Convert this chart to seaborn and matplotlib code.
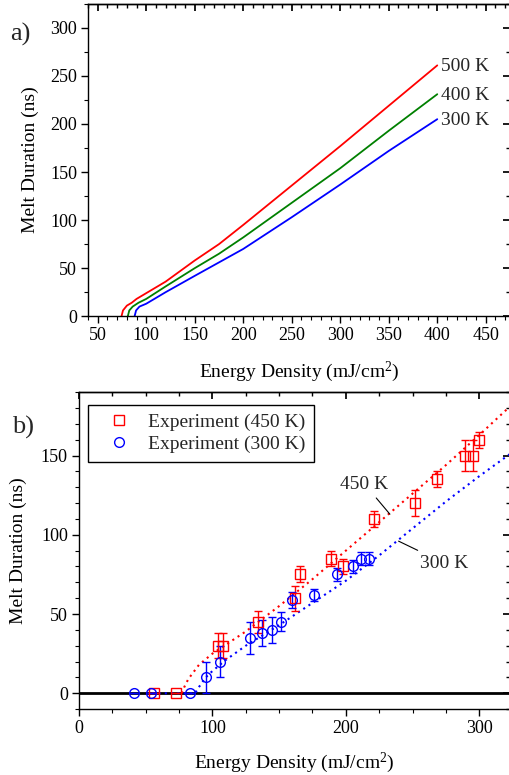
import matplotlib
matplotlib.use("Agg")
import matplotlib.pyplot as plt
import matplotlib.ticker as mticker
from matplotlib.lines import Line2D
import pandas as pd
import seaborn as sns

# ─── Data ─────────────────────────────────────────────────────────────────────

# panel a) simulated melt duration vs energy density
sim_a_500_x = [74.5, 76, 80, 85, 90, 100, 120, 150, 175, 200, 250, 300, 350, 400]
sim_a_500_y = [0, 6, 11, 14, 18, 24, 36, 58, 75, 95, 136, 177, 219, 261]
sim_a_400_x = [81, 82.5, 86, 92, 100, 120, 150, 175, 200, 250, 300, 350, 400]
sim_a_400_y = [0, 6, 10, 14, 18, 31, 50, 65, 82, 118, 154, 193, 231]
sim_a_300_x = [88, 89.5, 93, 100, 120, 150, 175, 200, 250, 300, 350, 400]
sim_a_300_y = [0, 6, 10, 13, 25, 42, 56, 70, 103, 137, 172, 205]
curve_labels_a = ["500 K", "400 K", "300 K"]

# panel b) experiment
exp_450_x = [56.5, 73, 104.5, 108, 134, 162, 166, 189, 197.5, 221, 252, 268, 289, 295, 300]
exp_450_y = [0, 0, 30, 30, 45, 60, 75, 85, 80, 110, 120, 135, 150, 150, 160]
exp_450_e = [0, 0, 8, 8, 7, 8, 5, 5, 5, 5, 8, 5, 10, 10, 5]

exp_300_x = [41, 54, 83, 95, 105.5, 128, 137.5, 144.5, 151.5, 160, 176, 193.5, 205, 211, 217]
exp_300_y = [0, 0, 0, 10, 20, 35, 38, 40, 45, 59, 62, 75, 80, 85, 85]
exp_300_e = [0, 0, 0, 10, 10, 10, 8, 8, 6, 5, 4, 4, 4, 4, 4]
exp_labels = ["Experiment (450 K)", "Experiment (300 K)"]

# panel b) simulation (dotted)
sim_b_450_x = [77, 79, 82, 90, 100, 125, 150, 175, 200, 225, 250, 275, 300, 323]
sim_b_450_y = [0, 4, 9, 18, 25, 39, 55, 72, 90, 108, 126, 144, 163, 181]
sim_b_300_x = [55, 87, 90, 95, 100, 110, 125, 150, 175, 200, 225, 250, 275, 300, 323]
sim_b_300_y = [0, 0, 4, 10, 14, 21, 30, 43, 57, 71, 87, 104, 121, 137, 151]

RED, GREEN, BLUE = "#ff0000", "#008000", "#0000ff"

# ─── Style ────────────────────────────────────────────────────────────────────

sns.set_theme(style="ticks")
plt.rcParams.update({
    "font.family": ["Liberation Serif", "DejaVu Serif"],
    "mathtext.fontset": "custom",
    "mathtext.rm": "Liberation Serif",
    "mathtext.it": "Liberation Serif:italic",
    "axes.linewidth": 1.0,
    "axes.edgecolor": "black",
    "xtick.color": "black",
    "ytick.color": "black",
    "xtick.labelsize": 13,
    "ytick.labelsize": 13,
    "axes.labelsize": 14,
    "axes.labelcolor": "black",
})
LBL = 14

fig = plt.figure(figsize=(5.09, 7.75), dpi=100)
ax_a = fig.add_axes([0.173, 0.592, 0.829, 0.403])
ax_b = fig.add_axes([0.155, 0.085, 0.847, 0.409])


def style_axes(ax, xmaj, xmin, ymaj, ymin):
    ax.xaxis.set_major_locator(mticker.MultipleLocator(xmaj))
    ax.xaxis.set_minor_locator(mticker.MultipleLocator(xmin))
    ax.yaxis.set_major_locator(mticker.MultipleLocator(ymaj))
    ax.yaxis.set_minor_locator(mticker.MultipleLocator(ymin))
    ax.tick_params(which="major", direction="out", length=5, width=1, pad=3)
    ax.tick_params(which="minor", direction="out", length=3, width=0.8)
    # mirrored ticks on top / right, pointing inward
    top = ax.secondary_xaxis("top")
    top.xaxis.set_major_locator(mticker.MultipleLocator(xmaj))
    top.xaxis.set_minor_locator(mticker.MultipleLocator(xmin))
    top.tick_params(which="major", direction="in", length=5, labeltop=False)
    top.tick_params(which="minor", direction="in", length=3, labeltop=False)
    right = ax.secondary_yaxis("right")
    right.yaxis.set_major_locator(mticker.MultipleLocator(ymaj))
    right.yaxis.set_minor_locator(mticker.MultipleLocator(ymin))
    right.tick_params(which="major", direction="in", length=5, labelright=False)
    right.tick_params(which="minor", direction="in", length=3, labelright=False)
    for s in ax.spines.values():
        s.set_visible(True)


# ─── Panel a ──────────────────────────────────────────────────────────────────

for xs, ys, col, lab in [(sim_a_500_x, sim_a_500_y, RED, curve_labels_a[0]),
                         (sim_a_400_x, sim_a_400_y, GREEN, curve_labels_a[1]),
                         (sim_a_300_x, sim_a_300_y, BLUE, curve_labels_a[2])]:
    sns.lineplot(x=xs, y=ys, ax=ax_a, color=col, linewidth=1.3, sort=False)
    ax_a.text(xs[-1] + 4, ys[-1] - 1, lab, fontsize=LBL, va="center", ha="left")

ax_a.set_xlim(40, 475)
ax_a.set_ylim(0, 325)
style_axes(ax_a, 50, 10, 50, 25)
ax_a.set_xlabel("Energy Density (mJ/cm$^2$)", labelpad=11)
ax_a.set_ylabel("Melt Duration (ns)", labelpad=8)
fig.text(0.02, 0.948, "a)", fontsize=19)

# ─── Panel b ──────────────────────────────────────────────────────────────────

ax_b.axhline(0, color="black", linewidth=2, zorder=1)
sns.lineplot(x=sim_b_450_x, y=sim_b_450_y, ax=ax_b, color=RED,
             linestyle=(0, (1, 2)), linewidth=1.5, sort=False)
sns.lineplot(x=sim_b_300_x, y=sim_b_300_y, ax=ax_b, color=BLUE,
             linestyle=(0, (1, 2)), linewidth=1.5, sort=False)

e450 = pd.DataFrame({"x": exp_450_x, "y": exp_450_y, "e": exp_450_e})
e300 = pd.DataFrame({"x": exp_300_x, "y": exp_300_y, "e": exp_300_e})
ax_b.errorbar(e450["x"], e450["y"], yerr=e450["e"], fmt="s", ms=7,
              mfc="none", mec=RED, mew=1.0, ecolor=RED, elinewidth=1.0,
              capsize=3, capthick=1.0, zorder=3)
ax_b.errorbar(e300["x"], e300["y"], yerr=e300["e"], fmt="o", ms=7,
              mfc="none", mec=BLUE, mew=1.0, ecolor=BLUE, elinewidth=1.0,
              capsize=3, capthick=1.0, zorder=3)

ax_b.annotate("450 K", xy=(233, 113), xytext=(214, 132), fontsize=LBL,
              ha="center", va="center",
              arrowprops=dict(arrowstyle="-", color="black", lw=0.8, shrinkA=2, shrinkB=0))
ax_b.annotate("300 K", xy=(239.5, 96), xytext=(274, 82), fontsize=LBL,
              ha="center", va="center",
              arrowprops=dict(arrowstyle="-", color="black", lw=0.8, shrinkA=2, shrinkB=0))

ax_b.set_xlim(0, 323)
ax_b.set_ylim(-10, 190)
style_axes(ax_b, 100, 25, 50, 10)
ax_b.set_xlabel("Energy Density (mJ/cm$^2$)", labelpad=10)
ax_b.set_ylabel("Melt Duration (ns)", labelpad=10)

handles = [Line2D([], [], marker="s", ls="none", mfc="none", mec=RED, ms=7),
           Line2D([], [], marker="o", ls="none", mfc="none", mec=BLUE, ms=7)]
leg = ax_b.legend(handles, exp_labels, loc="upper left", bbox_to_anchor=(0.021, 0.96),
                  fontsize=LBL, frameon=True, fancybox=False, edgecolor="black",
                  framealpha=1, handlelength=2.3, handletextpad=0.35,
                  borderpad=0.45, labelspacing=0.2, borderaxespad=0)
leg.get_frame().set_linewidth(1.0)
fig.text(0.024, 0.44, "b)", fontsize=19)

fig.savefig("out.png", dpi=100)
